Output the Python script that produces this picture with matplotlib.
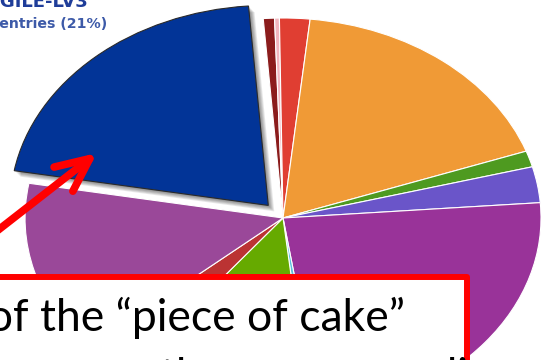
import matplotlib
matplotlib.use('Agg')
import matplotlib.pyplot as plt
from matplotlib.patches import Wedge, Rectangle
from matplotlib.transforms import ScaledTranslation

# share of entries per dataset, clockwise from the highlighted one
labels = ['AGILE-LV3', 'ds-b', 'ds-c', 'ds-d', 'ds-e', 'ds-f', 'ds-g',
          'ds-h', 'ds-i', 'ds-j', 'ds-k', 'ds-l']
shares = [21.0, 0.7, 0.3, 1.9, 17.9, 1.3, 2.9, 23.8, 0.7, 12.3, 3.1, 14.1]
colors = ['#023497', '#8b1c1c', '#f2b6bf', '#e03e32', '#f09a36', '#4e9a20',
          '#6a55c9', '#993399', '#5bc0de', '#66aa00', '#bb3333', '#9a4899']
explode = [0.085] + [0] * (len(shares) - 1)

fig = plt.figure(figsize=(5.41, 3.6), dpi=100)
ax = fig.add_axes([0, 0, 1, 1])

wedges, _ = ax.pie(shares, colors=colors, explode=explode, startangle=170,
                   counterclock=False,
                   wedgeprops=dict(edgecolor='white', linewidth=0.8))

# squash the pie into a tilted ellipse
ax.set_aspect('auto')
ax.set_xlim(-1.097, 1.0)
ax.set_ylim(-0.71, 1.09)
ax.axis('off')

# soft drop shadow under the pulled-out slice
hl = wedges[0]
hl.set_edgecolor('#2a2a2a')
hl.set_linewidth(0.8)
hl.set_zorder(3)
for k in range(1, 7):
    off = ScaledTranslation(k * 0.01, -k * 0.01, fig.dpi_scale_trans)
    sh = Wedge(hl.center, hl.r, hl.theta1, hl.theta2, facecolor='black',
               edgecolor='none', alpha=0.09, zorder=0.5,
               transform=ax.transData + off)
    ax.add_patch(sh)

# legend-style label of the highlighted slice
ax.text(88 / 541, 1 - 7 / 360, 'FRAGILE-LV3', transform=ax.transAxes,
        ha='right', va='baseline', fontsize=13, fontweight='bold',
        color='#1f3d99', family='DejaVu Sans')
ax.text(107 / 541, 1 - 28 / 360, '4120 entries (21%)', transform=ax.transAxes,
        ha='right', va='baseline', fontsize=10.2, fontweight='bold',
        color='#3d5aa8', family='DejaVu Sans')

# red arrow pointing at the slice
ax.annotate('', xy=(97 / 541, 1 - 153 / 360), xycoords='axes fraction',
            xytext=(-30 / 541, 1 - 252 / 360), textcoords='axes fraction',
            arrowprops=dict(arrowstyle='->,head_length=1.2,head_width=0.55',
                            color='#ff0000', lw=5.5, mutation_scale=20,
                            capstyle='round', joinstyle='round',
                            shrinkA=0, shrinkB=0),
            zorder=5, annotation_clip=False)

# text box
box = Rectangle((-20 / 541, -0.3), (467 + 20) / 541, 0.3 + 1 - 276.5 / 360,
                transform=ax.transAxes, facecolor='white', edgecolor='#ff0000',
                linewidth=4.3, joinstyle='round', zorder=6, clip_on=False)
ax.add_patch(box)
ax.text(405 / 541, 1 - 331 / 360, 'The size of the \u201cpiece of cake\u201d',
        transform=ax.transAxes, ha='right', va='baseline', fontsize=32,
        family='Lato', color='black', zorder=7)
ax.text(160 / 541, 1 - 390 / 360, 'the corresponding',
        transform=ax.transAxes, ha='left', va='baseline', fontsize=32,
        family='Lato', color='black', zorder=7)

fig.savefig('out.png', dpi=100)
